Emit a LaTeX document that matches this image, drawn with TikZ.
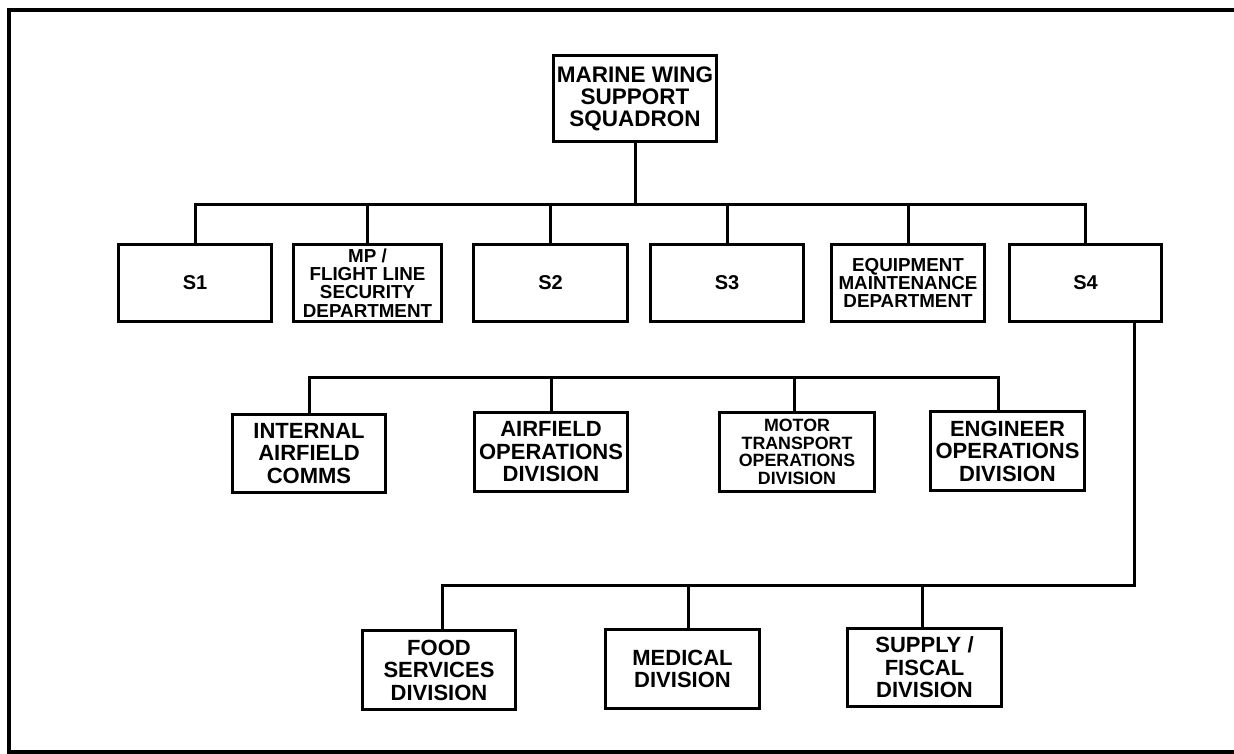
\documentclass[tikz,border=0pt]{standalone}
\usepackage{fontspec}
\setmainfont{Liberation Sans}
\newcommand\mwsHead{\fontsize{22.5}{22}\selectfont\bfseries}
\newcommand\mwsBig{\fontsize{22}{22.5}\selectfont\bfseries}
\newcommand\mwsStaff{\fontsize{20}{20}\selectfont\bfseries}
\newcommand\mwsMid{\fontsize{18.8}{18.2}\selectfont\bfseries}
\newcommand\mwsSmall{\fontsize{17.8}{17.6}\selectfont\bfseries}
\begin{document}
\begin{tikzpicture}[x=1pt,y=-1pt,
  box/.style={draw, line width=3pt, inner sep=0pt, align=center},
  link/.style={line width=3pt, line join=miter},
  frame/.style={line width=4.5pt}]
\useasboundingbox (0,0) rectangle (1234,754);

% outer frame (top, left and bottom edges)
\draw[frame] (1234,10) -- (9,10) -- (9,754);
\draw[frame] (9,752) -- (1234,752);

% squadron head
\node[box, font=\mwsHead, minimum width=163pt, minimum height=86pt] (mws) at (635,98.5)
  {MARINE WING\\SUPPORT\\SQUADRON};

% staff sections and departments
\node[box, font=\mwsStaff, minimum width=153pt, minimum height=77pt] (s1) at (195,283) {S1};
\node[box, font=\mwsMid, minimum width=148pt, minimum height=77pt] (mp) at (367.5,283)
  {MP /\\FLIGHT LINE\\SECURITY\\DEPARTMENT};
\node[box, font=\mwsStaff, minimum width=154pt, minimum height=77pt] (s2) at (550.5,283) {S2};
\node[box, font=\mwsStaff, minimum width=153pt, minimum height=77pt] (s3) at (727,283) {S3};
\node[box, font=\mwsMid, minimum width=153pt, minimum height=77pt] (equip) at (908,283)
  {EQUIPMENT\\MAINTENANCE\\DEPARTMENT};
\node[box, font=\mwsStaff, minimum width=152pt, minimum height=77pt] (s4) at (1085.5,283) {S4};

% operations divisions
\node[box, font=\mwsBig, minimum width=153pt, minimum height=78pt] (comms) at (309,453.5)
  {INTERNAL\\AIRFIELD\\COMMS};
\node[box, font=\mwsBig, minimum width=153pt, minimum height=79pt] (afld) at (551,452)
  {AIRFIELD\\OPERATIONS\\DIVISION};
\node[box, font=\mwsSmall, minimum width=155pt, minimum height=79pt] (mt) at (797,452)
  {MOTOR\\TRANSPORT\\OPERATIONS\\DIVISION};
\node[box, font=\mwsBig, minimum width=154pt, minimum height=79pt] (eng) at (1007.5,451)
  {ENGINEER\\OPERATIONS\\DIVISION};

% support divisions under S4
\node[box, font=\mwsBig, minimum width=153pt, minimum height=79pt] (food) at (439,670)
  {FOOD\\SERVICES\\DIVISION};
\node[box, font=\mwsBig, minimum width=154pt, minimum height=79pt] (med) at (682.5,669)
  {MEDICAL\\DIVISION};
\node[box, font=\mwsBig, minimum width=154pt, minimum height=78pt] (sup) at (924.5,667.5)
  {SUPPLY /\\FISCAL\\DIVISION};

% bus levels
\coordinate (busA) at (635,205);
\coordinate (busB) at (309,377);
\coordinate (busC) at (442,585);

% head to staff row
\draw[link] (mws.south) -- (busA);
\draw[link] (s1.north) -- (s1.north |- busA) -- (s4.north |- busA) -- (s4.north);
\foreach \n in {mp,s2,s3,equip}
  \draw[link] (\n.north) -- (\n.north |- busA);

% operations division bus
\draw[link] (comms.north) -- (comms.north |- busB)
  -- ([xshift=-9pt]eng.north |- busB) -- ([xshift=-9pt]eng.north);
\draw[link] (afld.north) -- (afld.north |- busB);
\draw[link] ([xshift=-3pt]mt.north) -- ([xshift=-3pt]mt.north |- busB);

% S4 to its divisions
\draw[link] ([xshift=48.5pt]s4.south) -- ([xshift=48.5pt]s4.south |- busC)
  -- ([xshift=3pt]food.north |- busC) -- ([xshift=3pt]food.north);
\draw[link] ([xshift=5.5pt]med.north) -- ([xshift=5.5pt]med.north |- busC);
\draw[link] ([xshift=-2.5pt]sup.north) -- ([xshift=-2.5pt]sup.north |- busC);
\end{tikzpicture}
\end{document}
